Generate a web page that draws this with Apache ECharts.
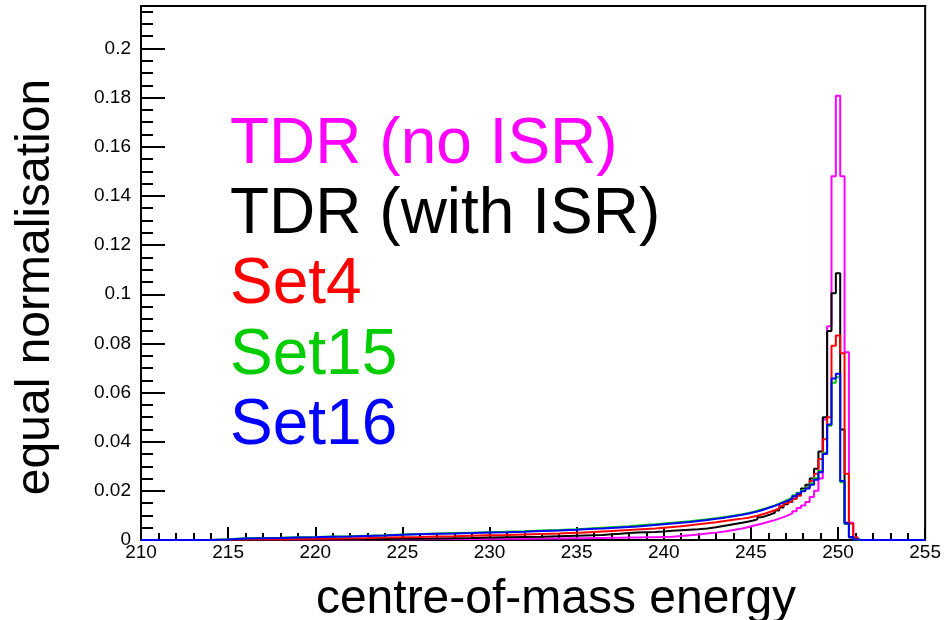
<!DOCTYPE html>
<html><head><meta charset="utf-8">
<script src="https://cdn.jsdelivr.net/npm/echarts@6/dist/echarts.min.js"></script>
<style>html,body{margin:0;padding:0;background:#fff}#c{width:944px;height:620px}</style>
</head><body><div id="c"></div>
<script>
// Histogram bin edges (GeV): 1 GeV bins in the far tail, 0.5 GeV mid, 0.25 GeV near the peak
const binEdges = [210,211,212,213,214,215,216,217,218,219,220,221,222,223,224,225,226,227,228,229,230,231,232,233,234,235,
  235.5,236,236.5,237,237.5,238,238.5,239,239.5,240,240.5,241,241.5,242,242.5,243,243.5,244,244.5,244.875,
  245.125,245.375,245.625,245.875,246.125,246.375,246.625,246.875,247.125,247.375,247.625,247.875,248.125,248.375,248.625,248.875,249.125,249.375,249.625,249.875,250.125,250.375,250.625,250.875,251.125,251.375,
  255];

const tdrNoIsr = [0,0,0,0,0, 0.0001,0.0001,0.0001,0.0002,0.0002, 0.0002,0.0002,0.0003,0.0003,0.0003, 0.0003,0.0004,0.0004,0.0004,0.0005, 0.0005,0.0005,0.0006,0.0006,0.0007,
  0.0007,0.0008,0.0008,0.0009,0.0009,0.0010,0.0010,0.0011,0.0011,0.0012,0.0013,0.0016,0.0019,0.0022,0.0026,0.0030,0.0035,0.0041,0.0047,0.0053,
  0.0058,0.0062,0.0066,0.0071,0.0076,0.0081,0.0087,0.0093,0.0100,0.0108,0.0117,0.0130,0.0140,0.0155,0.0175,0.0200,0.0250,0.0490,0.0870,0.1480,0.1808,0.1480,0.0764,0.0070,0.0010,0,
  0];

const tdrWithIsr = [0,0,0,0,0, 0,0.0001,0.0001,0.0002,0.0002, 0.0003,0.0003,0.0004,0.0004,0.0005, 0.0005,0.0006,0.0007,0.0008,0.0010, 0.0011,0.0012,0.0013,0.0015,0.0017,
  0.0018,0.0019,0.0020,0.0023,0.0025,0.0028,0.0031,0.0032,0.0033,0.0035,0.0038,0.0040,0.0042,0.0044,0.0047,0.0052,0.0058,0.0064,0.0070,0.0075,
  0.0079,0.0084,0.0093,0.0098,0.0104,0.0111,0.0120,0.0132,0.0145,0.0155,0.0168,0.0185,0.0210,0.0225,0.0250,0.0290,0.0360,0.0500,0.0850,0.1004,0.1085,0.0450,0.0070,0.0010,0,0,
  0];

const set4 = [0,0,0,0,0.0001, 0.0002,0.0003,0.0003,0.0004,0.0005, 0.0006,0.0007,0.0008,0.0010,0.0011, 0.0012,0.0014,0.0015,0.0017,0.0019, 0.0020,0.0022,0.0024,0.0026,0.0029,
  0.0031,0.0033,0.0035,0.0037,0.0039,0.0041,0.0043,0.0045,0.0047,0.0050,0.0053,0.0056,0.0060,0.0064,0.0068,0.0072,0.0077,0.0082,0.0087,0.0091,
  0.0095,0.0099,0.0104,0.0109,0.0115,0.0121,0.0128,0.0138,0.0150,0.0158,0.0168,0.0180,0.0200,0.0215,0.0240,0.0270,0.0330,0.0410,0.0500,0.0790,0.0832,0.0760,0.0270,0.0067,0.0010,0,
  0];

const set15 = [0,0,0,0,0.0003, 0.0007,0.0008,0.0009,0.0011,0.0012, 0.0014,0.0015,0.0017,0.0019,0.0022, 0.0024,0.0026,0.0028,0.0030,0.0032, 0.0034,0.0036,0.0039,0.0041,0.0044,
  0.0046,0.0048,0.0050,0.0052,0.0054,0.0056,0.0059,0.0062,0.0064,0.0067,0.0070,0.0073,0.0076,0.0080,0.0084,0.0089,0.0094,0.0099,0.0105,0.0110,
  0.0114,0.0119,0.0124,0.0129,0.0135,0.0141,0.0148,0.0156,0.0164,0.0172,0.0182,0.0192,0.0202,0.0214,0.0230,0.0252,0.0282,0.0355,0.0465,0.0640,0.0662,0.0235,0.0065,0.0012,0.0002,0,
  0];

const set16 = [0,0,0,0,0.0002, 0.0006,0.0007,0.0008,0.0010,0.0011, 0.0013,0.0014,0.0016,0.0018,0.0021, 0.0023,0.0025,0.0026,0.0028,0.0031, 0.0032,0.0034,0.0037,0.0039,0.0042,
  0.0044,0.0046,0.0047,0.0049,0.0051,0.0053,0.0055,0.0058,0.0061,0.0064,0.0067,0.0070,0.0073,0.0077,0.0081,0.0086,0.0091,0.0097,0.0103,0.0108,
  0.0112,0.0116,0.0121,0.0127,0.0133,0.0139,0.0146,0.0153,0.0160,0.0168,0.0178,0.0189,0.0198,0.0210,0.0225,0.0245,0.0276,0.0350,0.0470,0.0657,0.0677,0.0240,0.0067,0.0012,0.0002,0,
  0];

const seriesNames = ['TDR (no ISR)', 'TDR (with ISR)', 'Set4', 'Set15', 'Set16'];
const seriesValues = [tdrNoIsr, tdrWithIsr, set4, set15, set16];
const seriesColors = ['#ff00ff', '#000000', '#ff0000', '#00cc00', '#0000ff'];

function stepData(vals) {
  const d = vals.map((v, i) => [binEdges[i], v]);
  d.push([binEdges[binEdges.length - 1], vals[vals.length - 1]]);
  return d;
}

const FONT = 'Liberation Sans, Arial, Helvetica, sans-serif';
const chart = echarts.init(document.getElementById('c'), null, {renderer: 'canvas'});
chart.setOption({
  animation: false,
  backgroundColor: '#ffffff',
  grid: {left: 141, right: 17, top: 6, bottom: 80, show: true, borderColor: '#000', borderWidth: 2, backgroundColor: 'transparent'},
  xAxis: {
    type: 'value', min: 210, max: 255, interval: 5,
    axisLine: {show: true, onZero: false, lineStyle: {color: '#000', width: 2}},
    axisTick: {show: true, inside: true, length: 13, lineStyle: {color: '#000', width: 2}},
    minorTick: {show: true, splitNumber: 5, length: 7, lineStyle: {color: '#000', width: 2}},
    axisLabel: {color: '#000', fontSize: 19, fontFamily: FONT, margin: 3},
    splitLine: {show: false}
  },
  yAxis: {
    type: 'value', min: 0, max: 0.2173, interval: 0.02,
    axisLine: {show: true, lineStyle: {color: '#000', width: 2}},
    axisTick: {show: true, inside: true, length: 24, lineStyle: {color: '#000', width: 2}},
    minorTick: {show: true, splitNumber: 4, length: 12, lineStyle: {color: '#000', width: 2}},
    axisLabel: {color: '#000', fontSize: 19, fontFamily: FONT, margin: 10, showMaxLabel: false},
    splitLine: {show: false}
  },
  legend: {
    orient: 'vertical', left: 225, top: 110, padding: 0, itemGap: 0,
    itemWidth: 0, itemHeight: 0, selectedMode: false,
    data: seriesNames.map((n, i) => ({name: n, icon: 'rect', itemStyle: {opacity: 0}, textStyle: {color: seriesColors[i]}})),
    textStyle: {fontSize: 64, fontFamily: FONT, lineHeight: 70.3}
  },
  graphic: [
    {type: 'text', x: 36, y: 287, rotation: Math.PI / 2,
     style: {text: 'equal normalisation', fontSize: 48, fontFamily: FONT, fill: '#000', align: 'center', verticalAlign: 'middle'}},
    {type: 'text', x: 556, y: 600,
     style: {text: 'centre-of-mass energy', fontSize: 48, fontFamily: FONT, fill: '#000', align: 'center', verticalAlign: 'middle'}}
  ],
  series: seriesNames.map((n, i) => ({
    name: n, type: 'line', step: 'end', showSymbol: false, symbol: 'none',
    data: stepData(seriesValues[i]),
    lineStyle: {color: seriesColors[i], width: 2},
    itemStyle: {color: seriesColors[i]},
    clip: true
  }))
});
</script></body></html>
